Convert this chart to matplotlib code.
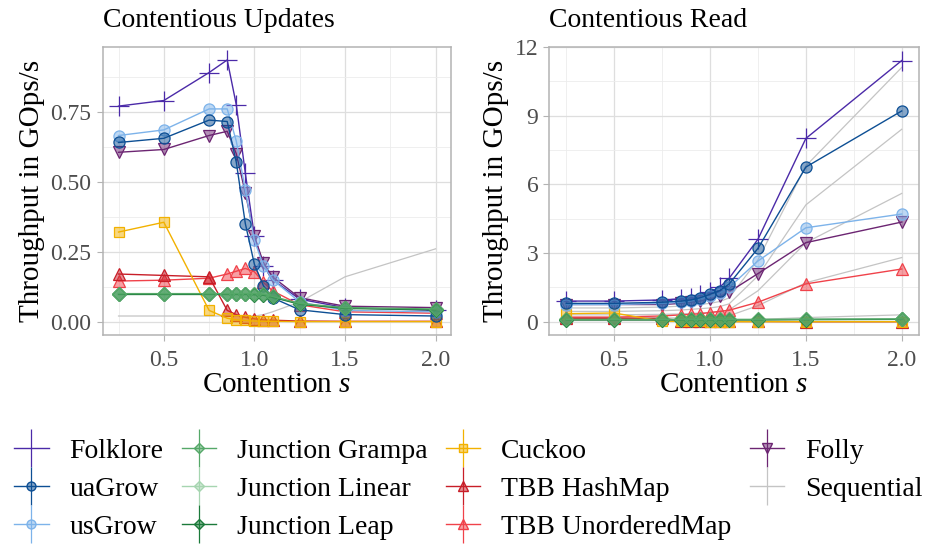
import matplotlib
matplotlib.use("Agg")
import matplotlib.pyplot as plt
from matplotlib.colors import to_rgba
from matplotlib.lines import Line2D
from matplotlib.legend_handler import HandlerTuple
from matplotlib.ticker import MultipleLocator

plt.rcParams['font.family'] = ['Liberation Serif', 'DejaVu Serif']
plt.rcParams['mathtext.fontset'] = 'custom'
plt.rcParams['mathtext.it'] = 'Liberation Serif:italic'
plt.rcParams['mathtext.rm'] = 'Liberation Serif'

# contention parameter s
s = [0.25, 0.5, 0.75, 0.85, 0.9, 0.95, 1.0, 1.05, 1.1, 1.25, 1.5, 2.0]

# throughput, contentious updates (GOps/s)
upd_folklore = [0.77, 0.79, 0.89, 0.935, 0.775, 0.53, 0.305, 0.20, 0.15, 0.08, 0.05, 0.04]
upd_uagrow = [0.64, 0.655, 0.72, 0.715, 0.57, 0.35, 0.205, 0.128, 0.085, 0.042, 0.025, 0.02]
upd_usgrow = [0.665, 0.685, 0.76, 0.76, 0.645, 0.47, 0.29, 0.20, 0.15, 0.07, 0.04, 0.035]
upd_grampa = [0.10, 0.10, 0.10, 0.10, 0.10, 0.10, 0.10, 0.098, 0.09, 0.065, 0.05, 0.045]
upd_linear = [0.098, 0.098, 0.098, 0.098, 0.098, 0.098, 0.097, 0.095, 0.088, 0.063, 0.048, 0.043]
upd_leap = [0.097, 0.097, 0.097, 0.097, 0.097, 0.097, 0.096, 0.094, 0.087, 0.062, 0.047, 0.042]
upd_cuckoo = [0.32, 0.355, 0.04, 0.012, 0.006, 0.004, 0.002, 0.001, 0.001, 0.0, 0.0, 0.0]
upd_tbbhash = [0.17, 0.165, 0.16, 0.04, 0.025, 0.015, 0.01, 0.006, 0.005, 0.002, 0.001, 0.001]
upd_tbbunord = [0.145, 0.148, 0.155, 0.17, 0.18, 0.19, 0.178, 0.14, 0.11, 0.06, 0.035, 0.03]
upd_folly = [0.605, 0.615, 0.665, 0.68, 0.60, 0.46, 0.305, 0.21, 0.16, 0.085, 0.055, 0.05]
upd_sequential = [[0.02, 0.02, 0.02, 0.02, 0.02, 0.02, 0.02, 0.025, 0.035, 0.07, 0.16, 0.26]]

# throughput, contentious read (GOps/s)
rd_folklore = [0.9, 0.9, 0.95, 1.0, 1.05, 1.15, 1.3, 1.5, 1.9, 3.6, 8.0, 11.4]
rd_uagrow = [0.8, 0.8, 0.85, 0.9, 0.95, 1.05, 1.2, 1.35, 1.65, 3.2, 6.75, 9.2]
rd_usgrow = [0.75, 0.75, 0.8, 0.85, 0.9, 1.0, 1.1, 1.25, 1.5, 2.65, 4.1, 4.7]
rd_grampa = [0.1, 0.1, 0.1, 0.1, 0.1, 0.1, 0.1, 0.1, 0.1, 0.1, 0.11, 0.12]
rd_linear = [0.09, 0.09, 0.09, 0.09, 0.09, 0.09, 0.09, 0.09, 0.09, 0.09, 0.1, 0.11]
rd_leap = [0.08, 0.08, 0.08, 0.08, 0.08, 0.08, 0.08, 0.08, 0.08, 0.08, 0.09, 0.1]
rd_cuckoo = [0.35, 0.38, 0.02, 0.01, 0.01, 0.01, 0.0, 0.0, 0.0, 0.0, 0.0, 0.0]
rd_tbbhash = [0.15, 0.15, 0.15, 0.03, 0.02, 0.02, 0.01, 0.01, 0.01, 0.01, 0.0, 0.0]
rd_tbbunord = [0.2, 0.2, 0.25, 0.3, 0.32, 0.35, 0.4, 0.45, 0.5, 0.85, 1.65, 2.3]
rd_folly = [0.75, 0.75, 0.75, 0.8, 0.85, 0.9, 1.0, 1.1, 1.3, 2.1, 3.45, 4.35]
rd_sequential = [
    [0.6, 0.6, 0.64, 0.68, 0.72, 0.76, 0.8, 0.88, 1.04, 2.7, 6.8, 11.1],
    [0.45, 0.45, 0.48, 0.51, 0.54, 0.57, 0.6, 0.66, 0.78, 2.0, 5.1, 8.4],
    [0.3, 0.3, 0.32, 0.34, 0.36, 0.38, 0.4, 0.44, 0.52, 1.35, 3.45, 5.6],
    [0.15, 0.15, 0.16, 0.17, 0.18, 0.19, 0.2, 0.22, 0.26, 0.7, 1.7, 2.8],
    [0.05, 0.05, 0.05, 0.05, 0.05, 0.05, 0.06, 0.06, 0.07, 0.1, 0.18, 0.3],
]

names = ['Folklore', 'uaGrow', 'usGrow', 'Junction Grampa', 'Junction Linear',
         'Junction Leap', 'Cuckoo', 'TBB HashMap', 'TBB UnorderedMap', 'Folly', 'Sequential']
colors = ['#4b2aa8', '#0d4f94', '#7db3ea', '#55a868', '#a6d5b0',
          '#1b7a3a', '#f2b100', '#c81e28', '#f0424a', '#6c2572', '#c4c4c4']
markers = ['+', 'o', 'o', 'D', 'D', 'D', 's', '^', '^', 'v', '']
msizes = [14, 8, 8, 7, 7, 7, 7, 8.5, 8.5, 8.5, 0]

upd = [upd_folklore, upd_uagrow, upd_usgrow, upd_grampa, upd_linear, upd_leap,
       upd_cuckoo, upd_tbbhash, upd_tbbunord, upd_folly]
rd = [rd_folklore, rd_uagrow, rd_usgrow, rd_grampa, rd_linear, rd_leap,
      rd_cuckoo, rd_tbbhash, rd_tbbunord, rd_folly]

# drawing order (later on top)
order = [0, 9, 8, 7, 6, 2, 1, 4, 5, 3]

fig = plt.figure(figsize=(9.25, 5.57), dpi=100)
ax1 = fig.add_axes([0.111, 0.399, 0.377, 0.517])
ax2 = fig.add_axes([0.594, 0.399, 0.399, 0.517])


def draw(ax, series, seq):
    for ys in seq:
        ax.plot(s, ys, color=colors[10], lw=0.9, zorder=2)
    for i in order:
        c = colors[i]
        ax.plot(s, series[i], color=c, lw=1.0, marker=markers[i], markersize=msizes[i],
                markerfacecolor=to_rgba(c, 0.5), markeredgecolor=c,
                markeredgewidth=0.9, zorder=3)


def style(ax, title):
    ax.set_xlim(0.1625, 2.0875)
    ax.xaxis.set_major_locator(MultipleLocator(0.5))
    ax.xaxis.set_minor_locator(MultipleLocator(0.25))
    ax.grid(which='major', color='#dedede', lw=0.9)
    ax.grid(which='minor', color='#ececec', lw=0.6)
    ax.set_axisbelow(True)
    for sp in ax.spines.values():
        sp.set_color('#b3b3b3')
        sp.set_linewidth(1.1)
    ax.tick_params(which='major', length=4, color='#b3b3b3', labelsize=17,
                   labelcolor='#4d4d4d', pad=4)
    ax.tick_params(axis='x', which='major', pad=7)
    ax.tick_params(which='minor', length=0)
    ax.set_xlabel('Contention $s$', fontsize=21, labelpad=1)
    ax.set_ylabel('Throughput in GOps/s', fontsize=21, labelpad=4)
    ax.set_title(title, loc='left', fontsize=20, pad=14)


draw(ax1, upd, upd_sequential)
style(ax1, 'Contentious Updates')
ax1.set_ylim(-0.047, 0.982)
ax1.yaxis.set_major_locator(MultipleLocator(0.25))
ax1.yaxis.set_minor_locator(MultipleLocator(0.125))
ax1.yaxis.set_major_formatter(plt.FuncFormatter(lambda v, p: '%.2f' % v))

draw(ax2, rd, rd_sequential)
style(ax2, 'Contentious Read')
ax2.set_ylim(-0.57, 12.0)
ax2.yaxis.set_major_locator(MultipleLocator(3))
ax2.yaxis.set_minor_locator(MultipleLocator(1.5))

# legend keys: line + marker with a vertical bar through it
handles = []
for i in range(11):
    c = colors[i]
    bar = Line2D([], [], color=c, marker='|', markersize=28, markeredgewidth=0.9,
                 linestyle='none')
    if markers[i] in ('', '+'):
        key = Line2D([], [], color=c, lw=1.0)
    else:
        key = Line2D([], [], color=c, lw=1.0, marker=markers[i], markersize=msizes[i] * 0.8,
                     markerfacecolor=to_rgba(c, 0.5), markeredgecolor=c)
    handles.append((bar, key))

fig.legend(handles, names, ncol=4, loc='upper left', bbox_to_anchor=(-0.006, 0.248),
           frameon=False, fontsize=20, handlelength=1.25, handletextpad=0.75,
           columnspacing=0.65, labelspacing=0.45, borderpad=0.2,
           handler_map={tuple: HandlerTuple(ndivide=1)})

fig.savefig('out.png', dpi=100)
